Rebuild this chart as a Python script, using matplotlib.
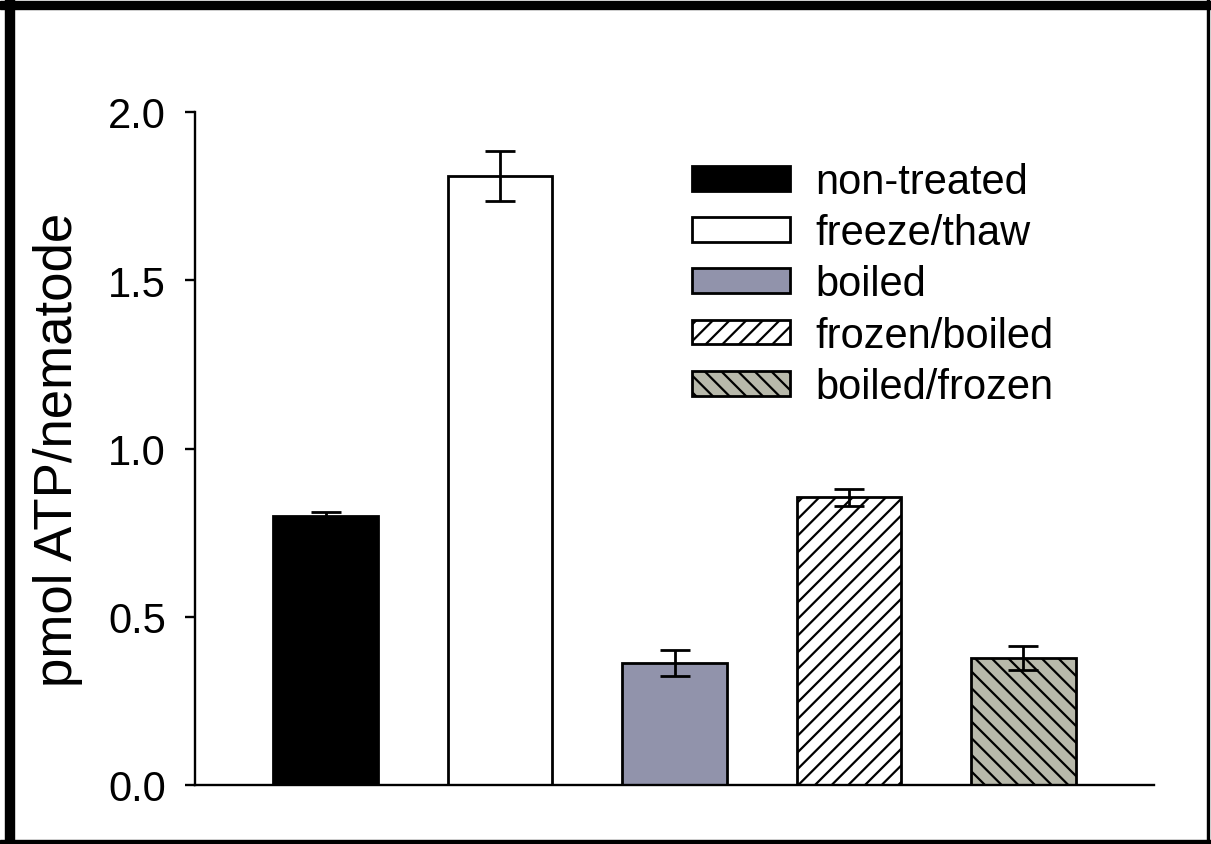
import matplotlib
matplotlib.use("Agg")
import matplotlib.pyplot as plt
from matplotlib.patches import Rectangle

plt.rcParams['font.family'] = ['Liberation Sans', 'DejaVu Sans']
plt.rcParams['hatch.linewidth'] = 1.6

# data
treatments = ['non-treated', 'freeze/thaw', 'boiled', 'frozen/boiled', 'boiled/frozen']
atp_mean = [0.80, 1.81, 0.363, 0.855, 0.378]
atp_err = [0.010, 0.075, 0.038, 0.025, 0.035]

fills = ['#000000', '#ffffff', '#9193ab', '#ffffff', '#b8b9ab']
hatches = [None, None, None, '//', '\\\\']

W, H = 1211, 845
fig = plt.figure(figsize=(W / 100, H / 100), dpi=100)
ax = fig.add_axes([195 / W, 59 / H, (1154 - 195) / W, (786 - 113) / H])

x = list(range(len(treatments)))
for i in x:
    ax.bar(i, atp_mean[i], width=0.6, color=fills[i], edgecolor='black',
           linewidth=2, hatch=hatches[i], label=treatments[i], zorder=2)
ax.errorbar(x, atp_mean, yerr=atp_err, fmt='none', ecolor='black',
            elinewidth=2, capsize=11, capthick=2, zorder=3)

ax.set_xlim(-0.75, 4.75)
ax.set_ylim(0, 2.0)
ax.set_yticks([0.0, 0.5, 1.0, 1.5, 2.0])
ax.set_yticklabels(['0.0', '0.5', '1.0', '1.5', '2.0'])
ax.set_xticks([])
ax.tick_params(axis='y', direction='out', length=7, width=1.7, pad=14, labelsize=30)
for s in ['top', 'right']:
    ax.spines[s].set_visible(False)
for s in ['left', 'bottom']:
    ax.spines[s].set_linewidth(1.7)

ax.set_ylabel('pmol ATP/nematode', fontsize=38)
ax.yaxis.set_label_coords(-0.117, 0.5)

leg = ax.legend(loc='upper left', bbox_to_anchor=((692 - 195) / (1154 - 195), (786 - 163) / (786 - 113)),
                frameon=False, fontsize=30, handlelength=2.36, handleheight=0.53,
                handletextpad=0.6, labelspacing=0.27, borderaxespad=0, borderpad=0)

# outer frame of the image
fig.add_artist(Rectangle((5 / W, 0), 9 / W, 1, transform=fig.transFigure, color='black'))
fig.add_artist(Rectangle((0, 1 - 10 / H), 1, 8 / H, transform=fig.transFigure, color='black'))
fig.add_artist(Rectangle((1207 / W, 0), 2 / W, 1, transform=fig.transFigure, color='black'))
fig.add_artist(Rectangle((0, 0), 1, 4 / H, transform=fig.transFigure, color='black'))

fig.savefig('out.png', dpi=100)
